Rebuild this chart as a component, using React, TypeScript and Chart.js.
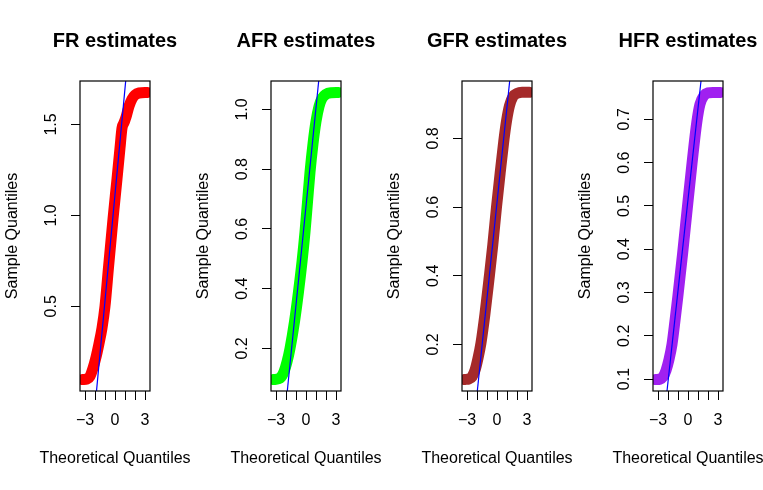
import React, { useEffect, useRef } from "react";
import { Chart, registerables } from "chart.js";

Chart.register(...registerables);

// ---- data ----
const titles = ["FR estimates", "AFR estimates", "GFR estimates", "HFR estimates"];
const colors = ["#FF0000", "#00FF00", "#A52A2A", "#A020F0"];
const xAxisLabel = "Theoretical Quantiles";
const yAxisLabel = "Sample Quantiles";

const xTicks = [-3, -2, -1, 0, 1, 2, 3];
const xTickLabels = ["\u22123", "", "", "0", "", "", "3"];

// FR
const frTheo = [-3.24, -2.8, -2.5, -2.2, -1.9, -1.6, -1.3, -1.0, -0.64, -0.2, 0.2, 0.5, 0.7, 0.9, 1.1, 1.4, 1.7, 2.0, 2.4, 3.24];
const frSample = [0.097, 0.1, 0.115, 0.16, 0.22, 0.295, 0.38, 0.5, 0.72, 0.98, 1.2, 1.37, 1.48, 1.51, 1.54, 1.6, 1.64, 1.662, 1.673, 1.676];
const frLineX = [-1.85, 1.07];
const frLineY = [0.034, 1.739];
const frYTicks = [0.5, 1.0, 1.5];
const frYLabels = ["0.5", "1.0", "1.5"];
const frRange = [0.034, 1.739];

// AFR
const afrTheo = [-3.24, -2.8, -2.5, -2.2, -1.9, -1.6, -1.15, -0.75, -0.4, -0.1, 0.15, 0.4, 0.7, 1.0, 1.3, 1.6, 2.0, 2.5, 3.24];
const afrSample = [0.096, 0.098, 0.104, 0.122, 0.155, 0.2, 0.29, 0.39, 0.49, 0.59, 0.69, 0.79, 0.885, 0.96, 1.01, 1.037, 1.051, 1.056, 1.057];
const afrLineX = [-1.87, 1.27];
const afrLineY = [0.0576, 1.0954];
const afrYTicks = [0.2, 0.4, 0.6, 0.8, 1.0];
const afrYLabels = ["0.2", "0.4", "0.6", "0.8", "1.0"];
const afrRange = [0.0576, 1.0954];

// GFR
const gfrTheo = [-3.24, -2.8, -2.5, -2.2, -1.9, -1.6, -1.2, -0.8, -0.42, -0.05, 0.32, 0.67, 0.95, 1.25, 1.6, 2.0, 2.5, 3.24];
const gfrSample = [0.098, 0.1, 0.106, 0.125, 0.16, 0.205, 0.29, 0.39, 0.49, 0.6, 0.7, 0.79, 0.85, 0.895, 0.922, 0.931, 0.934, 0.934];
const gfrLineX = [-1.97, 1.27];
const gfrLineY = [0.0646, 0.967];
const gfrYTicks = [0.2, 0.4, 0.6, 0.8];
const gfrYLabels = ["0.2", "0.4", "0.6", "0.8"];
const gfrRange = [0.0646, 0.967];

// HFR
const hfrTheo = [-3.24, -2.8, -2.5, -2.2, -1.9, -1.6, -1.3, -1.02, -0.54, -0.07, 0.41, 0.89, 1.2, 1.6, 2.0, 2.5, 3.24];
const hfrSample = [0.099, 0.1, 0.105, 0.12, 0.145, 0.18, 0.235, 0.29, 0.39, 0.495, 0.6, 0.695, 0.735, 0.755, 0.761, 0.762, 0.762];
const hfrLineX = [-2.1, 1.3];
const hfrLineY = [0.0725, 0.7885];
const hfrYTicks = [0.1, 0.2, 0.3, 0.4, 0.5, 0.6, 0.7];
const hfrYLabels = ["0.1", "0.2", "0.3", "0.4", "0.5", "0.6", "0.7"];
const hfrRange = [0.0725, 0.7885];

const panels = [
  { theo: frTheo, sample: frSample, lx: frLineX, ly: frLineY, yt: frYTicks, yl: frYLabels, range: frRange },
  { theo: afrTheo, sample: afrSample, lx: afrLineX, ly: afrLineY, yt: afrYTicks, yl: afrYLabels, range: afrRange },
  { theo: gfrTheo, sample: gfrSample, lx: gfrLineX, ly: gfrLineY, yt: gfrYTicks, yl: gfrYLabels, range: gfrRange },
  { theo: hfrTheo, sample: hfrSample, lx: hfrLineX, ly: hfrLineY, yt: hfrYTicks, yl: hfrYLabels, range: hfrRange },
];

const canvasLefts = [0, 191, 382, 573];
const FAMILY = "'Liberation Sans', Arial, Helvetica, sans-serif";

const boxPlugin = {
  id: "plotBox",
  afterDatasetsDraw(chart: any) {
    const { ctx, chartArea: a } = chart;
    ctx.save();
    ctx.strokeStyle = "#000";
    ctx.lineWidth = 1.2;
    ctx.strokeRect(a.left, a.top, a.right - a.left, a.bottom - a.top);
    ctx.restore();
  },
};

function Panel({ idx }: { idx: number }) {
  const ref = useRef<HTMLCanvasElement>(null);
  useEffect(() => {
    const p = panels[idx];
    const chart = new Chart(ref.current as HTMLCanvasElement, {
      type: "scatter",
      data: {
        datasets: [
          {
            data: p.theo.map((x, i) => ({ x, y: p.sample[i] })),
            showLine: true,
            borderColor: colors[idx],
            backgroundColor: colors[idx],
            borderWidth: 11,
            pointRadius: 0,
            cubicInterpolationMode: "monotone",
            borderCapStyle: "round",
            borderJoinStyle: "round",
            clip: 0,
            order: 2,
          } as any,
          {
            data: p.lx.map((x, i) => ({ x, y: p.ly[i] })),
            showLine: true,
            borderColor: "#0000FF",
            borderWidth: 1.2,
            pointRadius: 0,
            clip: 0,
            order: 1,
          } as any,
        ],
      },
      options: {
        animation: false,
        responsive: false,
        devicePixelRatio: 1,
        events: [],
        layout: { padding: 0 },
        plugins: {
          legend: { display: false },
          tooltip: { enabled: false },
          title: {
            display: true,
            text: titles[idx],
            color: "#000",
            font: { family: FAMILY, size: 20, weight: "bold", lineHeight: 1.2 },
            padding: { top: 29.3, bottom: 27.7 },
          },
          subtitle: {
            display: true,
            position: "bottom",
            text: xAxisLabel,
            color: "#000",
            font: { family: FAMILY, size: 16, weight: "normal", lineHeight: 1.2 },
            padding: { top: 8.1, bottom: 21.7 },
          },
        },
        scales: {
          x: {
            type: "linear",
            position: "bottom",
            min: -3.5,
            max: 3.5,
            afterBuildTicks: (s: any) => {
              s.ticks = xTicks.map((v) => ({ value: v }));
            },
            afterFit: (s: any) => {
              s.height = 50;
            },
            grid: { drawOnChartArea: false, drawTicks: true, tickLength: 9, color: "#000", lineWidth: 1 },
            border: { display: false },
            ticks: {
              autoSkip: false,
              minRotation: 0,
              maxRotation: 0,
              padding: 10.5,
              color: "#000",
              font: { family: FAMILY, size: 16 },
              callback: (v: any) => {
                const k = xTicks.indexOf(Number(v));
                return k >= 0 ? xTickLabels[k] : "";
              },
            },
          },
          y: {
            type: "linear",
            position: "left",
            min: p.range[0],
            max: p.range[1],
            afterBuildTicks: (s: any) => {
              s.ticks = p.yt.map((v) => ({ value: v }));
            },
            afterFit: (s: any) => {
              s.width = 80;
            },
            grid: { drawOnChartArea: false, drawTicks: true, tickLength: 9, color: "#000", lineWidth: 1 },
            border: { display: false },
            ticks: {
              autoSkip: false,
              minRotation: 90,
              maxRotation: 90,
              crossAlign: "center",
              padding: 8.4,
              color: "#000",
              font: { family: FAMILY, size: 16 },
              callback: (v: any) => {
                const k = p.yt.findIndex((t) => Math.abs(t - Number(v)) < 1e-9);
                return k >= 0 ? p.yl[k] : "";
              },
            },
            title: {
              display: true,
              text: yAxisLabel,
              color: "#000",
              font: { family: FAMILY, size: 16, lineHeight: 1.2 },
              padding: { top: 3.4, bottom: 0 },
            },
          },
          yRight: {
            type: "linear",
            position: "right",
            display: true,
            afterFit: (s: any) => {
              s.width = 80;
            },
            grid: { display: false, drawTicks: false },
            border: { display: false },
            ticks: { display: false },
          },
        },
      } as any,
      plugins: [boxPlugin],
    });
    return () => chart.destroy();
  }, [idx]);
  return (
    <canvas
      ref={ref}
      width={230}
      height={490}
      style={{ position: "absolute", left: canvasLefts[idx], top: 0, width: 230, height: 490 }}
    />
  );
}

export default function App() {
  return (
    <div
      style={{
        position: "fixed",
        left: 0,
        top: 0,
        width: 763,
        height: 490,
        overflow: "hidden",
        background: "#fff",
      }}
    >
      {panels.map((_, i) => (
        <Panel key={i} idx={i} />
      ))}
    </div>
  );
}
